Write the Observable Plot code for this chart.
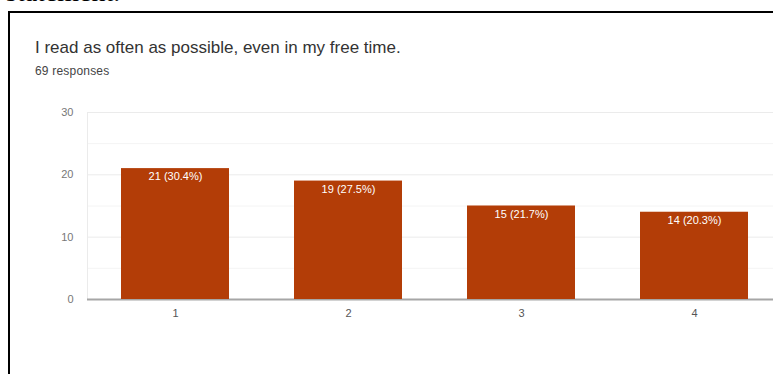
<!DOCTYPE html>
<html>
<head>
<meta charset="utf-8">
<script src="https://cdn.jsdelivr.net/npm/d3@7"></script>
<script src="https://cdn.jsdelivr.net/npm/@observablehq/plot@0.6"></script>
<style>
  html, body { margin: 0; padding: 0; width: 773px; height: 374px; overflow: hidden; background: #fff; }
  #page { position: relative; width: 773px; height: 374px; }
  #above { position: absolute; left: 6px; top: -22px; font: 28px "Liberation Serif", "Times New Roman", serif; line-height: 28px; color: #000; white-space: nowrap; }
  #frame { position: absolute; left: 8px; top: 11px; width: 800px; height: 400px; border-top: 2px solid #000; border-left: 2px solid #000; }
  #title { position: absolute; left: 35px; top: 39px; font: 17px "Liberation Sans", Arial, sans-serif; line-height: 17px; color: #333; white-space: nowrap; }
  #subtitle { position: absolute; left: 35px; top: 65px; font: 12px "Liberation Sans", Arial, sans-serif; line-height: 12px; letter-spacing: 0.2px; color: #444; white-space: nowrap; }
  #chart { position: absolute; left: 0; top: 80px; }
</style>
</head>
<body>
<div id="page">
  <div id="above">statement.</div>
  <div id="frame"></div>
  <div id="title">I read as often as possible, even in my free time.</div>
  <div id="subtitle">69 responses</div>
  <div id="chart"></div>
</div>
<script>
const categories = ["1", "2", "3", "4"];
const counts = [21, 19, 15, 14];
const labels = ["21 (30.4%)", "19 (27.5%)", "15 (21.7%)", "14 (20.3%)"];
const yTicks = [0, 10, 20, 30];
const minorTicks = [5, 15, 25];

const data = categories.map((c, i) => ({cat: c, value: counts[i], label: labels[i]}));

const chart = Plot.plot({
  width: 773,
  height: 294,
  marginTop: 32,
  marginBottom: 75,
  marginLeft: 87,
  marginRight: 0,
  style: {fontFamily: "'Liberation Sans', Arial, sans-serif", fontSize: "11px", background: "transparent"},
  x: {type: "band", domain: categories, range: [87, 781], paddingInner: 0.378, paddingOuter: 0.189},
  y: {domain: [0, 30]},
  marks: [
    Plot.ruleY(minorTicks, {stroke: "#f4f4f4"}),
    Plot.ruleY(yTicks.filter(d => d > 0), {stroke: "#ebebeb"}),
    Plot.frame({anchor: "left", stroke: "#ebebeb"}),
    Plot.ruleY([0], {stroke: "#a6a6a6", strokeWidth: 2}),
    Plot.barY(data, {x: "cat", y: "value", fill: "#b33d07"}),
    Plot.text(data, {x: "cat", y: "value", text: "label", fill: "#fff", dy: 8, fontSize: 11}),
    Plot.axisY({ticks: yTicks, tickSize: 0, tickPadding: 14, fill: "#777", fontSize: 11, label: null}),
    Plot.axisX({tickSize: 0, tickPadding: 10, fill: "#555", fontSize: 11, label: null})
  ]
});
document.getElementById("chart").appendChild(chart);
</script>
</body>
</html>
